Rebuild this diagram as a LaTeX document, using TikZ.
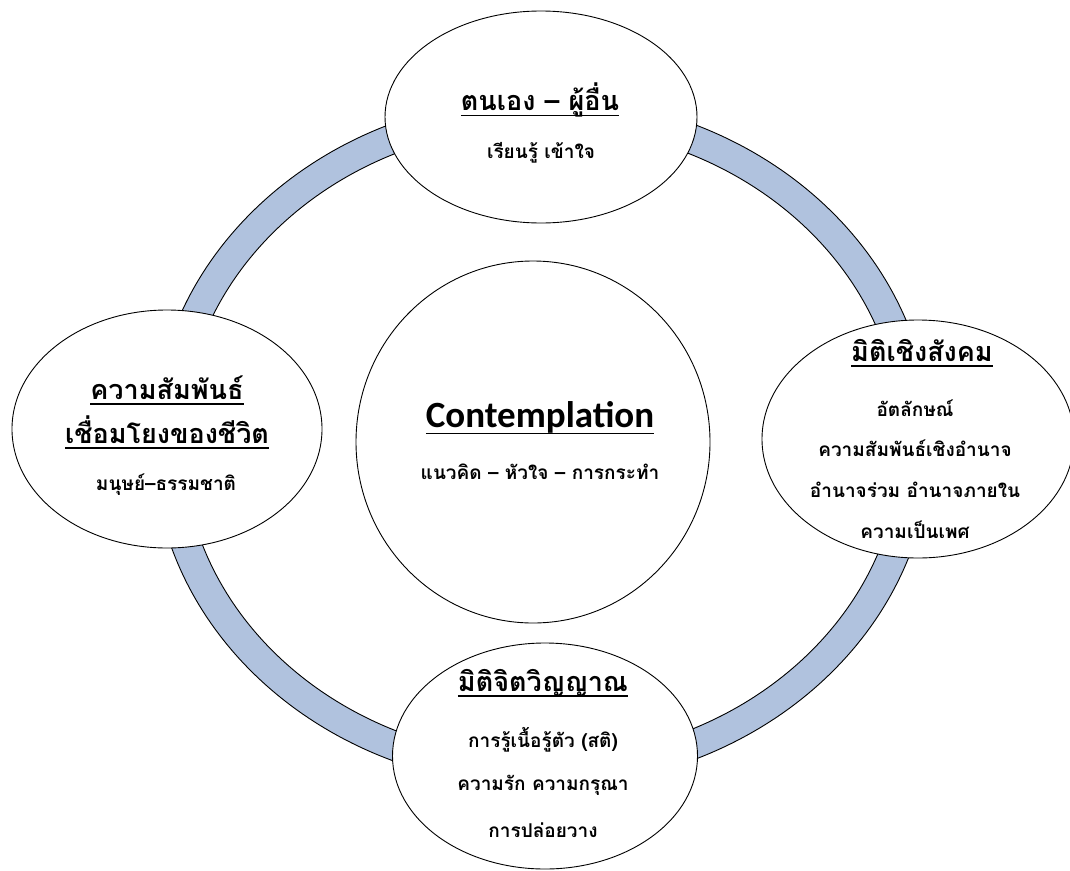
\documentclass[tikz,border=0pt]{standalone}
\usepackage{fontspec}
\usetikzlibrary{shapes.geometric}
\newfontfamily\thaifont[Script=Thai]{Loma}
\newfontfamily\latinbold{Carlito}
\definecolor{ringblue}{RGB}{176,194,222}
\newcommand\headul[2]{\setbox0\hbox{#2}\rlap{\rule[#1]{\wd0}{1.5pt}}\box0}
\tikzset{
  bubble/.style={ellipse, draw=black, line width=0.9pt, fill=white, inner sep=0pt},
  head/.style={font=\thaifont\bfseries\fontsize{27}{31}\selectfont, inner sep=0pt},
  body/.style={font=\thaifont\bfseries\fontsize{19}{23}\selectfont, inner sep=0pt},
}
\begin{document}
\begin{tikzpicture}[x=1pt,y=-1pt]
\useasboundingbox (0,0) rectangle (1070,870);
% ring
\fill[ringblue, draw=black, line width=0.9pt, even odd rule]
  (542,442) ellipse [x radius=389pt, y radius=345pt]
  (542,442) ellipse [x radius=359pt, y radius=316pt];
% bubbles
\node[bubble, minimum width=312pt, minimum height=212pt] (top) at (541,117) {};
\node[bubble, minimum width=310pt, minimum height=238pt] (left) at (167,429) {};
\node[bubble, minimum width=312pt, minimum height=238pt] (right) at (918,439) {};
\node[bubble, minimum width=305pt, minimum height=226pt] (bottom) at (545,756) {};
\node[bubble, minimum width=354pt, minimum height=362pt] (center) at (533,442) {};
% top texts
\node[head] (topH) at (540,100) {\headul{-5.5pt}{ตนเอง – ผู้อื่น}};
\node[body] (topB) at (541,153) {เรียนรู้ เข้าใจ};
% left texts
\node[head] (leftH1) at (167,390) {\headul{-5.5pt}{ความสัมพันธ์}};
\node[head] (leftH2) at (167,432) {\headul{-5.5pt}{เชื่อมโยงของชีวิต}};
\node[body] (leftB) at (166,485) {มนุษย์–ธรรมชาติ};
% right texts
\node[head] (rightH) at (922,353) {\headul{-5.5pt}{มิติเชิงสังคม}};
\node[body] (rightB1) at (915,408) {อัตลักษณ์};
\node[body] (rightB2) at (915,448) {ความสัมพันธ์เชิงอำนาจ};
\node[body] (rightB3) at (915,490) {อำนาจร่วม อำนาจภายใน};
\node[body] (rightB4) at (915,530) {ความเป็นเพศ};
% bottom texts
\node[head] (botH) at (543,683) {\headul{-5.5pt}{มิติจิตวิญญาณ}};
\node[body] (botB1) at (543,740) {การรู้เนื้อรู้ตัว (สติ)};
\node[body] (botB2) at (543,785) {ความรัก ความกรุณา};
\node[body] (botB3) at (543,830) {การปล่อยวาง};
% center texts
\node[font=\latinbold\bfseries\fontsize{37}{43}\selectfont, inner sep=0pt] (cH) at (540,418) {\headul{-6.5pt}{Contemplation}};
\node[body] (cB) at (540,472) {แนวคิด – หัวใจ – การกระทำ};
\end{tikzpicture}
\end{document}
